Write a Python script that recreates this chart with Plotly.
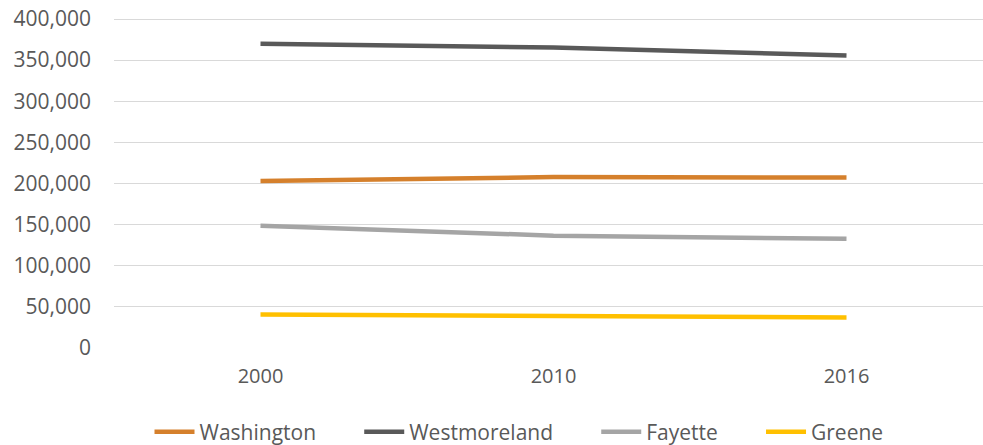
import plotly.graph_objects as go

years = ["2000", "2010", "2016"]
series_names = ["Washington", "Westmoreland", "Fayette", "Greene"]
washington = [202900, 207800, 207300]
westmoreland = [370000, 365200, 355500]
fayette = [148600, 136600, 132700]
greene = [40700, 38700, 37100]
colors = ["#D5802C", "#595959", "#A5A5A5", "#FFC000"]
y_ticks = [0, 50000, 100000, 150000, 200000, 250000, 300000, 350000, 400000]

fig = go.Figure()
n = len(series_names)
for i, (name, vals, col) in enumerate(zip(series_names, [washington, westmoreland, fayette, greene], colors)):
    pad = "\u00a0" * 7 if i < n - 1 else ""
    fig.add_trace(go.Scatter(x=years, y=vals, name=name + pad, mode="lines",
                             line=dict(color=col, width=4.5)))

W, H = 995, 445
L = 114
fig.update_layout(
    width=W, height=H,
    margin=dict(l=L, r=0, t=16, b=97),
    plot_bgcolor="white", paper_bgcolor="white",
    font=dict(family="Open Sans", size=20, color="#595959"),
    showlegend=True,
    legend=dict(orientation="h", x=519 / W, xanchor="center", xref="container",
                yref="container", y=1 - 432 / H, yanchor="middle",
                font=dict(size=21, color="#595959"), itemwidth=40),
    xaxis=dict(type="category", range=[-0.5, -0.5 + (W - L) / 293], showgrid=False,
               showline=False, zeroline=False, ticklabelstandoff=14,
               tickfont=dict(size=20)),
    yaxis=dict(range=[0, 400000 * 332 / 329], tickvals=y_ticks, tickformat=",",
               showgrid=True, gridcolor="#D9D9D9", gridwidth=1.3,
               zeroline=False, showline=False, ticklabelstandoff=22,
               tickfont=dict(size=21)),
)
fig.write_html("out.html", config={"displayModeBar": False},
               post_script="document.body.style.margin='0';document.body.style.overflow='hidden';document.documentElement.style.overflow='hidden';")
